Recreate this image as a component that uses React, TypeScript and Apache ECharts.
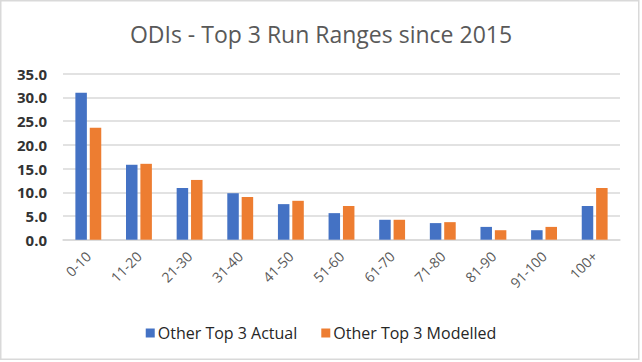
import React, { useEffect, useRef } from "react";
import * as echarts from "echarts";

const categories = ["0-10", "11-20", "21-30", "31-40", "41-50", "51-60", "61-70", "71-80", "81-90", "91-100", "100+"];
const actual = [31.0, 15.8, 10.9, 9.8, 7.5, 5.6, 4.2, 3.5, 2.7, 2.0, 7.1];
const modelled = [23.6, 16.0, 12.6, 9.0, 8.2, 7.1, 4.2, 3.7, 2.0, 2.7, 10.9];
const seriesNames = ["Other Top 3 Actual", "Other Top 3 Modelled"];
const titleText = "ODIs - Top 3 Run Ranges since 2015";

export default function App() {
  const ref = useRef<HTMLDivElement>(null);
  useEffect(() => {
    if (!ref.current) return;
    const chart = echarts.init(ref.current, undefined, { renderer: "svg" });
    const font = "'Open Sans', sans-serif";
    chart.setOption({
      animation: false,
      backgroundColor: "#ffffff",
      title: {
        text: titleText,
        left: "center",
        top: 17,
        textStyle: { fontFamily: font, fontSize: 23, fontWeight: "normal", color: "#595959" },
      },
      legend: {
        bottom: 16,
        left: "center",
        itemWidth: 9,
        itemHeight: 9,
        itemGap: 24,
        icon: "rect",
        textStyle: { fontFamily: font, fontSize: 16, color: "#262626", padding: [0, 0, 0, -2] },
        data: seriesNames,
      },
      graphic: [
        {
          type: "rect",
          shape: { x: 0.75, y: 0.75, width: 638, height: 358.5 },
          style: { fill: "none", stroke: "#d9d9d9", lineWidth: 1.5 },
          silent: true,
        },
      ],
      grid: { left: 63, right: 22, top: 73.7, bottom: 122.3, containLabel: false },
      xAxis: {
        type: "category",
        data: categories,
        axisLine: { show: true, lineStyle: { color: "#d9d9d9", width: 1.5 } },
        axisTick: { show: false },
        axisLabel: {
          rotate: 45,
          interval: 0,
          margin: 14,
          fontFamily: font,
          fontSize: 14,
          color: "#595959",
        },
      },
      yAxis: {
        type: "value",
        min: 0,
        max: 35,
        interval: 5,
        axisLine: { show: false },
        axisTick: { show: false },
        splitLine: { lineStyle: { color: "#d9d9d9", width: 1.5 } },
        axisLabel: {
          formatter: (v: number) => v.toFixed(1),
          fontFamily: font,
          fontSize: 15,
          fontWeight: "bold",
          color: "#333333",
          margin: 16,
        },
      },
      series: [
        {
          name: seriesNames[0],
          type: "bar",
          data: actual,
          barWidth: 11.5,
          barGap: "25%",
          itemStyle: { color: "#4472c4" },
        },
        {
          name: seriesNames[1],
          type: "bar",
          data: modelled,
          barWidth: 11.5,
          itemStyle: { color: "#ed7d31" },
        },
      ],
    });
    return () => chart.dispose();
  }, []);
  return (
    <div
      ref={ref}
      style={{ position: "absolute", left: 0, top: 0, width: 642, height: 362 }}
    />
  );
}
